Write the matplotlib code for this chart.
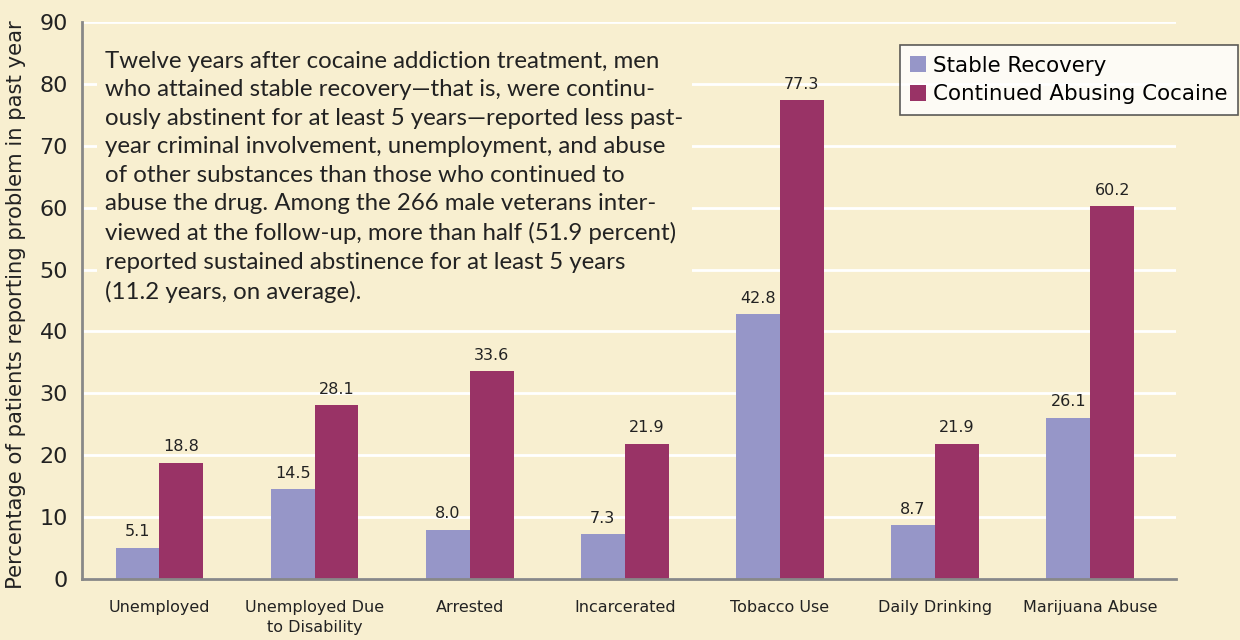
import matplotlib
matplotlib.use("Agg")
import matplotlib.pyplot as plt
import numpy as np

categories = ["Unemployed", "Unemployed Due\nto Disability", "Arrested", "Incarcerated",
              "Tobacco Use", "Daily Drinking", "Marijuana Abuse"]
stable_recovery = [5.1, 14.5, 8.0, 7.3, 42.8, 8.7, 26.1]
continued_abusing = [18.8, 28.1, 33.6, 21.9, 77.3, 21.9, 60.2]
series_names = ["Stable Recovery", "Continued Abusing Cocaine"]
y_ticks = [0, 10, 20, 30, 40, 50, 60, 70, 80, 90]
ylabel = "Percentage of patients reporting problem in past year"
note = ("Twelve years after cocaine addiction treatment, men\n"
        "who attained stable recovery\u2014that is, were continu-\n"
        "ously abstinent for at least 5 years\u2014reported less past-\n"
        "year criminal involvement, unemployment, and abuse\n"
        "of other substances than those who continued to\n"
        "abuse the drug. Among the 266 male veterans inter-\n"
        "viewed at the follow-up, more than half (51.9 percent)\n"
        "reported sustained abstinence for at least 5 years\n"
        "(11.2 years, on average).")

BG = "#F8EFD0"
C1 = "#9696C8"
C2 = "#993366"

fig = plt.figure(figsize=(12.4, 6.4), dpi=100, facecolor=BG)
ax = fig.add_axes([0.066, 0.095, 0.882, 0.871], facecolor=BG)

x = np.arange(len(categories))
w = 0.283
b1 = ax.bar(x - w / 2, stable_recovery, w, color=C1, label=series_names[0], zorder=3)
b2 = ax.bar(x + w / 2, continued_abusing, w, color=C2, label=series_names[1], zorder=3)

for rects, vals in ((b1, stable_recovery), (b2, continued_abusing)):
    for r, v in zip(rects, vals):
        ax.annotate(f"{v:.1f}", (r.get_x() + r.get_width() / 2, v), xytext=(0, 6),
                    textcoords="offset points", ha="center", va="bottom",
                    fontsize=11.5, color="#222222", zorder=4)

ax.set_xlim(-0.5, 6.55)
ax.set_ylim(0, 90)
ax.set_yticks(y_ticks)
ax.set_yticklabels([str(t) for t in y_ticks], fontsize=16, color="#222222")
ax.set_xticks(x)
ax.set_xticklabels(categories, fontsize=11.5, color="#222222", linespacing=1.45)
ax.tick_params(axis="both", length=0)
ax.tick_params(axis="x", pad=15)
ax.tick_params(axis="y", pad=10)
ax.set_ylabel(ylabel, fontsize=15.2, color="#222222")
ax.yaxis.set_label_coords(-0.051, 0.492)

ax.grid(axis="y", color="white", linewidth=2, zorder=1)
ax.set_axisbelow(True)
for s in ("top", "right"):
    ax.spines[s].set_visible(False)
for s in ("left", "bottom"):
    ax.spines[s].set_color("#888888")
    ax.spines[s].set_linewidth(2)
    ax.spines[s].set_zorder(5)

ax.text(105 / 1240, 1 - 51 / 640, note, transform=fig.transFigure, ha="left", va="top",
        fontsize=17.3, family=["Lato", "DejaVu Sans"], color="#222222",
        linespacing=1.44, zorder=2,
        bbox=dict(facecolor=BG, edgecolor="none", pad=6))

leg = fig.legend(loc="upper right", bbox_to_anchor=(1238 / 1240, 1 - 45 / 640),
                 fontsize=15.4, frameon=True, fancybox=False, handlelength=0.75,
                 handleheight=0.75, handletextpad=0.3, borderpad=0.5, labelspacing=0.4,
                 borderaxespad=0)
leg.get_frame().set_edgecolor("#333333")
leg.get_frame().set_facecolor("white")
leg.get_frame().set_linewidth(1.2)

fig.savefig("out.png", dpi=100, facecolor=BG)
